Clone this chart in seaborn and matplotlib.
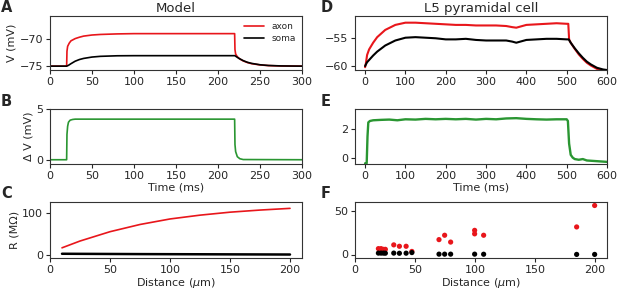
import numpy as np
import pandas as pd
import matplotlib
matplotlib.use("Agg")
import matplotlib.pyplot as plt
import seaborn as sns

sns.set_style("ticks")
plt.rcParams['font.family'] = ['DejaVu Sans']

# ---------------- data ----------------
# Panel A: model voltages
a_axon_t = [0, 19.8, 20.2, 21, 23, 25, 30, 35, 40, 50, 60, 80, 100, 150, 219.8, 220.2, 221, 223, 226, 230, 235, 240, 250, 260, 275, 300]
a_axon_v = [-75, -75, -72.3, -71.4, -70.8, -70.4, -70.0, -69.75, -69.55, -69.35, -69.25, -69.15, -69.1, -69.1, -69.1, -72.0, -72.8, -73.3, -73.7, -74.05, -74.35, -74.55, -74.78, -74.9, -74.97, -75]
a_soma_t = [0, 19.8, 22, 25, 30, 35, 40, 50, 60, 80, 100, 150, 220, 222, 225, 230, 235, 240, 250, 260, 275, 300]
a_soma_v = [-75, -75, -74.85, -74.55, -74.1, -73.8, -73.6, -73.35, -73.22, -73.12, -73.1, -73.1, -73.1, -73.3, -73.6, -74.0, -74.3, -74.5, -74.75, -74.88, -74.96, -75]

# Panel B: model delta V
b_t = [0, 19.8, 20.2, 21, 22, 24, 27, 30, 50, 100, 219.8, 220.2, 221, 223, 226, 230, 300]
b_dv = [0, 0, 2.5, 3.3, 3.7, 3.9, 3.97, 4.0, 4.0, 4.0, 4.0, 1.5, 0.8, 0.3, 0.1, 0.02, 0]

# Panel C: model resistance vs distance
c_dist = [10, 25, 50, 75, 100, 125, 150, 175, 200]
c_axon_r = [17, 33, 55, 72, 85, 94, 101, 106, 110]
c_soma_r = [3, 2.8, 2.5, 2.2, 2.0, 1.8, 1.6, 1.4, 1.2]

# Panel D: L5 pyramidal cell voltages
d_axon_t = [0, 2, 5, 10, 20, 30, 50, 75, 100, 125, 150, 175, 200, 225, 250, 275, 300, 325, 350, 365, 375, 385, 400, 425, 450, 475, 500, 504, 506, 510, 520, 530, 540, 550, 560, 575, 590, 600]
d_axon_v = [-60.2, -59.5, -58, -57, -55.8, -54.8, -53.5, -52.6, -52.2, -52.2, -52.3, -52.4, -52.5, -52.6, -52.6, -52.7, -52.7, -52.7, -52.8, -53.0, -53.1, -52.9, -52.6, -52.5, -52.4, -52.3, -52.4, -52.4, -55.2, -55.8, -56.9, -57.9, -58.7, -59.4, -59.9, -60.5, -60.8, -60.8]
d_soma_t = [0, 2, 5, 10, 20, 30, 50, 75, 100, 125, 150, 175, 200, 225, 250, 275, 300, 325, 350, 365, 375, 385, 400, 425, 450, 475, 500, 505, 510, 520, 530, 540, 550, 560, 575, 590, 600]
d_soma_v = [-60, -59.7, -59.3, -58.9, -58.1, -57.4, -56.3, -55.4, -54.9, -54.8, -54.9, -55.0, -55.2, -55.2, -55.1, -55.3, -55.4, -55.4, -55.4, -55.6, -55.8, -55.6, -55.3, -55.2, -55.1, -55.1, -55.2, -55.2, -55.8, -56.8, -57.7, -58.5, -59.2, -59.7, -60.3, -60.6, -60.7]

# Panel E: L5 delta V
e_t = [0, 4, 6, 8, 12, 20, 40, 60, 80, 100, 125, 150, 175, 200, 225, 250, 275, 300, 325, 350, 375, 400, 425, 450, 475, 500, 503, 506, 510, 515, 520, 530, 540, 550, 575, 600]
e_dv = [-0.4, -0.4, 1.5, 2.5, 2.6, 2.65, 2.68, 2.7, 2.65, 2.72, 2.7, 2.75, 2.72, 2.75, 2.72, 2.75, 2.7, 2.75, 2.72, 2.78, 2.8, 2.75, 2.72, 2.7, 2.72, 2.72, 2.6, 1.0, 0.2, 0.0, -0.1, -0.15, -0.1, -0.2, -0.25, -0.3]

# Panel F: L5 resistance vs distance
f_axon_x = [19.5, 21.7, 23.7, 25.3, 32.3, 37, 42.6, 47.4, 70, 74.7, 79.7, 99.7, 99.7, 107.2, 184.7, 199.7]
f_axon_r = [6.7, 6.7, 5.9, 5.9, 11, 9.4, 9.4, 3.5, 17, 22, 14.2, 27.6, 23.6, 22, 31.5, 56]
f_soma_x = [19.5, 21.7, 23.7, 25.3, 32.3, 37, 42.6, 47.4, 70, 74.7, 79.7, 99.7, 107.2, 184.7, 199.7]
f_soma_r = [1.6, 1.6, 1.6, 1.5, 1.6, 1.4, 1.5, 2.2, 0.4, 0.4, 0.4, 0.4, 0.3, 0.1, 0.1]

RED = '#e8161b'
BLACK = 'black'
GREEN = '#2a9632'

# ---------------- figure ----------------
W, H = 617, 293
fig = plt.figure(figsize=(W / 100, H / 100), dpi=100)

def add_ax(left, top, right, bottom):
    return fig.add_axes([left / W, 1 - bottom / H, (right - left) / W, (bottom - top) / H])

axA = add_ax(50, 16, 302, 70)
axB = add_ax(50, 109, 302, 164)
axC = add_ax(50, 202, 302, 258)
axD = add_ax(355, 16, 607, 70)
axE = add_ax(355, 109, 607, 164)
axF = add_ax(355, 202, 607, 258)

lw = 1.2
def line(ax, x, y, color, label=None, lw=lw):
    df = pd.DataFrame({'x': x, 'y': y})
    sns.lineplot(data=df, x='x', y='y', ax=ax, color=color, lw=lw,
                 sort=False, estimator=None, label=label)

line(axA, a_axon_t, a_axon_v, RED, 'axon')
line(axA, a_soma_t, a_soma_v, BLACK, 'soma')
line(axB, b_t, b_dv, GREEN)
line(axC, c_dist, c_axon_r, RED)
line(axC, c_dist, c_soma_r, BLACK, lw=1.8)
line(axD, d_axon_t, d_axon_v, RED, lw=1.5)
line(axD, d_soma_t, d_soma_v, BLACK, lw=1.5)
line(axE, e_t, e_dv, GREEN, lw=1.7)

sns.scatterplot(x=f_axon_x, y=f_axon_r, ax=axF, color=RED, s=14, edgecolor='none')
sns.scatterplot(x=f_soma_x, y=f_soma_r, ax=axF, color=BLACK, s=14, edgecolor='none')

axA.legend(loc='upper right', frameon=False, fontsize=6.5, handlelength=2.2,
           borderaxespad=0.3, labelspacing=0.35)

axA.set_xlim(0, 300); axA.set_ylim(-75.7, -65.9)
axA.set_yticks([-75, -70]); axA.set_xticks([0, 50, 100, 150, 200, 250, 300])
axB.set_xlim(0, 300); axB.set_ylim(-0.42, 5)
axB.set_yticks([0, 5]); axB.set_xticks([0, 50, 100, 150, 200, 250, 300])
axC.set_xlim(0, 210); axC.set_ylim(-7, 125)
axC.set_yticks([0, 100]); axC.set_xticks([0, 50, 100, 150, 200])
axD.set_xlim(-25, 600); axD.set_ylim(-60.7, -51)
axD.set_yticks([-60, -55]); axD.set_xticks([0, 100, 200, 300, 400, 500, 600])
axE.set_xlim(-25, 600); axE.set_ylim(-0.45, 3.45)
axE.set_yticks([0, 2]); axE.set_xticks([0, 100, 200, 300, 400, 500, 600])
axF.set_xlim(0, 210); axF.set_ylim(-4, 60)
axF.set_yticks([0, 50]); axF.set_xticks([0, 50, 100, 150, 200])

for ax in [axA, axB, axC, axD, axE, axF]:
    ax.set_xlabel(''); ax.set_ylabel('')
    ax.tick_params(labelsize=8, length=3, width=0.8, pad=2)
    for s in ax.spines.values():
        s.set_linewidth(0.8)
        s.set_color('#333333')

axA.set_ylabel('V (mV)', fontsize=8, labelpad=2)
axB.set_ylabel('Δ V (mV)', fontsize=8, labelpad=2)
axC.set_ylabel('R (MΩ)', fontsize=8, labelpad=2)
axB.set_xlabel('Time (ms)', fontsize=8, labelpad=1)
axE.set_xlabel('Time (ms)', fontsize=8, labelpad=1)
axC.set_xlabel('Distance ($\\mu$m)', fontsize=8, labelpad=1)
axF.set_xlabel('Distance ($\\mu$m)', fontsize=8, labelpad=1)

axA.set_title('Model', fontsize=9.5, pad=3)
axD.set_title('L5 pyramidal cell', fontsize=9.5, pad=3)

for letter, (x, y) in zip('ABCDEF', [(1, 8), (1, 101), (1, 194), (321, 8), (321, 101), (321, 194)]):
    fig.text(x / W, 1 - y / H, letter, fontsize=10.5, fontweight='bold', va='center', ha='left')

fig.savefig('out.png', dpi=100)
